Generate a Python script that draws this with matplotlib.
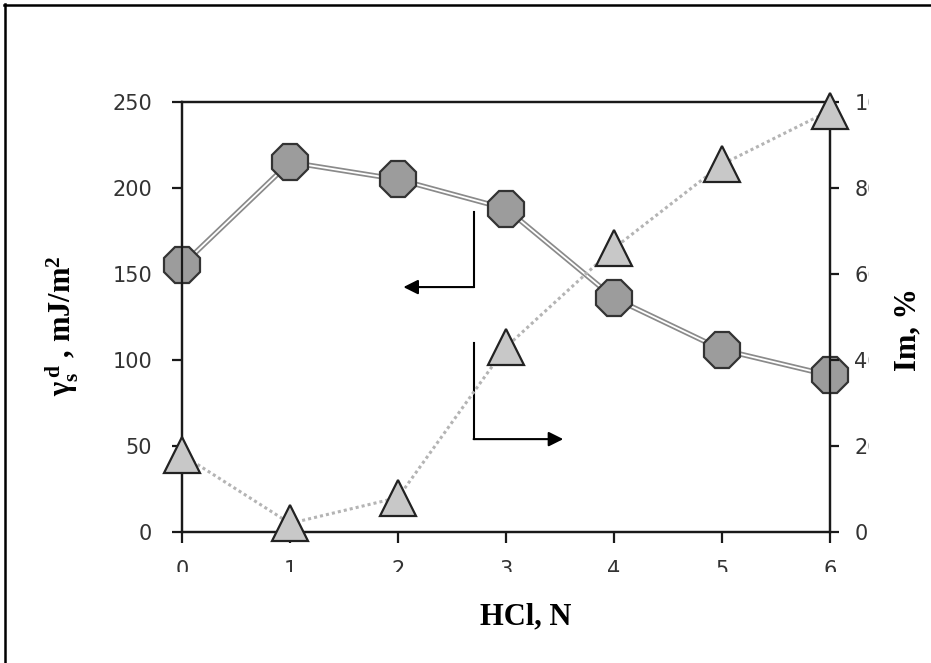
import matplotlib
matplotlib.use('Agg')
import matplotlib.pyplot as plt
from matplotlib.lines import Line2D
from matplotlib.transforms import Bbox

plt.rcParams['mathtext.fontset'] = 'custom'
plt.rcParams['mathtext.rm'] = 'Liberation Serif:bold'
plt.rcParams['mathtext.it'] = 'Liberation Serif:bold'
plt.rcParams['mathtext.bf'] = 'Liberation Serif:bold'

# data
hcl = [0, 1, 2, 3, 4, 5, 6]
gamma_sd = [155, 215, 205, 188, 136, 106, 91]   # left axis, mJ/m2
im_pct = [18, 2, 8, 43, 66, 85.5, 98]           # right axis, %

x_ticks = [0, 1, 2, 3, 4, 5, 6]
left_ticks = [0, 50, 100, 150, 200, 250]
right_ticks = [0, 20, 40, 60, 80, 100]

# L-shaped pointer arrows (x, left-axis y)
arrow_left = [(2.70, 186), (2.70, 142.4), (2.05, 142.4)]
arrow_right = [(2.70, 110), (2.70, 54), (3.53, 54)]

W, H = 931, 663
fig = plt.figure(figsize=(W / 100, H / 100), dpi=100)
ax = fig.add_axes([182 / W, 1 - 532 / H, 648 / W, 430 / H])
ax2 = ax.twinx()

tick_font = dict(family='DejaVu Sans', size=15)
lab_font = dict(family='Liberation Serif', weight='bold', size=22)
axc = '#1a1a1a'

# circles: double grey line + octagons
ax.plot(hcl, gamma_sd, color='#8a8a8a', lw=3.8, zorder=3, solid_capstyle='butt')
ax.plot(hcl, gamma_sd, color='white', lw=1.3, zorder=3.1)
ax.plot(hcl, gamma_sd, ls='none', marker='8', ms=27.5, mfc='#9c9c9c', mec='#333333',
        mew=1.6, clip_on=False, zorder=4)

# triangles: dotted light line
ax2.plot(hcl, im_pct, color='#b4b4b4', lw=2.2, ls=(0, (1, 1)), zorder=2)
ax2.plot(hcl, im_pct, ls='none', marker='^', ms=26, mfc='#c8c8c8', mec='#222222',
         mew=1.6, clip_on=False, zorder=5)
ax2.set_zorder(ax.get_zorder() + 1)
ax2.patch.set_visible(False)

# arrows
for pts in (arrow_left, arrow_right):
    ax.plot([pts[0][0], pts[1][0]], [pts[0][1], pts[1][1]], color='black', lw=1.5, zorder=2)
    ax.annotate('', xy=pts[2], xytext=pts[1],
                arrowprops=dict(arrowstyle='-|>', color='black', lw=1.5,
                                mutation_scale=22, shrinkA=0, shrinkB=0))

ax.set_xlim(0, 6)
ax.set_ylim(0, 250)
ax2.set_ylim(0, 100)
ax.set_xticks(x_ticks)
ax.set_xticklabels([str(v) for v in x_ticks], **tick_font, color='#333333')
ax.set_yticks(left_ticks)
ax.set_yticklabels([str(v) for v in left_ticks], **tick_font, color='#333333')
ax2.set_yticks(right_ticks)
ax2.set_yticklabels([str(v) for v in right_ticks], **tick_font, color='#333333')

for a in (ax, ax2):
    for s in a.spines.values():
        s.set_linewidth(1.6)
        s.set_color(axc)
ax.tick_params(axis='y', direction='out', length=7.5, width=1.6, color=axc, pad=14)
ax.tick_params(axis='x', direction='out', length=8, width=1.6, color=axc, pad=12)
ax2.tick_params(axis='y', direction='out', length=6.5, width=1.6, color=axc, pad=11)

ax.set_ylabel(r'$\gamma_s^{\,d}$ , mJ/m$^2$', fontdict=lab_font, va='center')
ax.yaxis.set_label_coords(-0.185, 0.48)
ax2.set_ylabel('Im, %', fontdict=lab_font, va='center', rotation=90)
ax2.yaxis.set_label_coords(1.12, 0.47)
ax.set_xlabel('HCl, N', fontdict=lab_font, va='center')
ax.xaxis.set_label_coords(0.531, -0.198)

# outer frame (top and left edges only)
fig.add_artist(Line2D([4 / W, 1], [1 - 4.5 / H, 1 - 4.5 / H], transform=fig.transFigure,
                      color='black', lw=1.8))
fig.add_artist(Line2D([4.5 / W, 4.5 / W], [0, 1 - 4 / H], transform=fig.transFigure,
                      color='black', lw=1.8))

# clipped tick labels as in the source image
fig.canvas.draw()
for t in ax2.get_yticklabels():
    t.set_clip_box(Bbox.from_extents(0, 0, 869, H))
for t in ax.get_xticklabels():
    t.set_clip_box(Bbox.from_extents(0, H - 572, W, H))

fig.savefig('out.png', dpi=100)
